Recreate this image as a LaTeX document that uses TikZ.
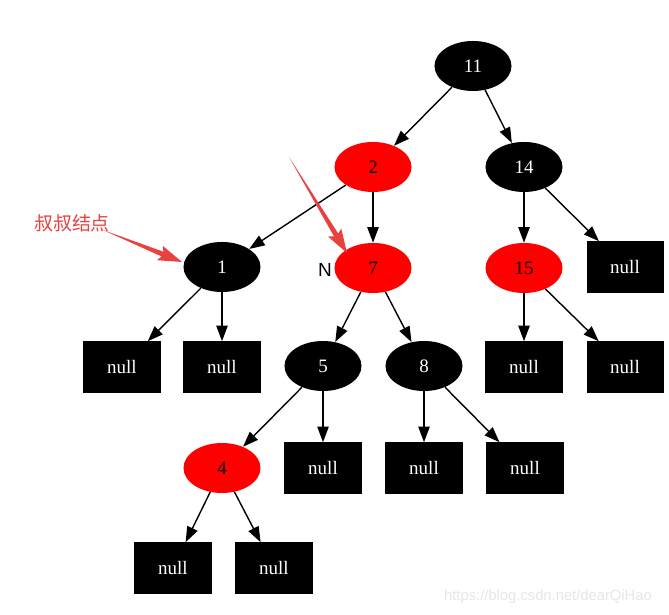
\documentclass[tikz,border=0pt]{standalone}
\usepackage{fontspec}
\setmainfont{Liberation Serif}
\newfontfamily\cjk{Noto Sans CJK SC}
\newfontfamily\labelsans{Liberation Sans}
\usepackage{tikz}
\usetikzlibrary{arrows.meta,shapes.geometric,calc}
\definecolor{notered}{HTML}{E8413E}
\definecolor{markgray}{HTML}{E6E6E6}
% tapered pointer: #1 = tail, #2 = tip
\newcommand{\taperarrow}[2]{%
  \fill[notered] (#1)
    -- ($($(#2)!15pt!(#1)$)!1.8pt!90:(#2)$)
    -- ($($(#2)!17pt!(#1)$)!5.5pt!90:(#2)$)
    -- (#2)
    -- ($($(#2)!17pt!(#1)$)!5.5pt!-90:(#2)$)
    -- ($($(#2)!15pt!(#1)$)!1.8pt!-90:(#2)$)
    -- cycle;}

\begin{document}
\begin{tikzpicture}[x=0.025cm, y=-0.025cm,
  font=\fontsize{13.5}{16}\selectfont,
  blacknode/.style={draw=none, fill=black, text=white, ellipse, minimum width=1.925cm, minimum height=1.25cm, inner sep=0pt},
  rednode/.style={draw=none, fill=red, text=black, ellipse, minimum width=1.925cm, minimum height=1.25cm, inner sep=0pt},
  nullbox/.style={draw=none, fill=black, text=white, rectangle, minimum width=1.925cm, minimum height=1.275cm, inner sep=0pt},
  edge/.style={line width=1pt, -{Triangle[length=11pt,width=8pt]}}]
\useasboundingbox (0,0) rectangle (669,615);

% Tree nodes
\node[blacknode] (n11) at (473,66) {11};
\node[rednode] (n2) at (373,167) {2};
\node[blacknode] (n14) at (524,167) {14};
\node[blacknode] (n1) at (222,267) {1};
\node[rednode] (n7) at (373,268) {7};
\node[rednode] (n15) at (524,268) {15};
\node[blacknode] (n5) at (323,366) {5};
\node[blacknode] (n8) at (424,366) {8};
\node[rednode] (n4) at (222,468) {4};

% Null leaves
\node[nullbox] (null14) at (625,267) {null};
\node[nullbox] (null1a) at (122,367) {null};
\node[nullbox] (null1b) at (222,367) {null};
\node[nullbox] (null15a) at (524,367) {null};
\node[nullbox] (null15b) at (625,367) {null};
\node[nullbox] (null5) at (323,468) {null};
\node[nullbox] (null8a) at (424,468) {null};
\node[nullbox] (null8b) at (525,468) {null};
\node[nullbox] (null4a) at (173,568) {null};
\node[nullbox] (null4b) at (274,568) {null};

% Edges
\draw[edge] (n11) -- (n2);
\draw[edge] (n11) -- (n14);
\draw[edge] (n2) -- (n1);
\draw[edge] (n2) -- (n7);
\draw[edge] (n14) -- (n15);
\draw[edge] (n14) -- (null14);
\draw[edge] (n1) -- (null1a);
\draw[edge] (n1) -- (null1b);
\draw[edge] (n7) -- (n5);
\draw[edge] (n7) -- (n8);
\draw[edge] (n15) -- (null15a);
\draw[edge] (n15) -- (null15b);
\draw[edge] (n5) -- (n4);
\draw[edge] (n5) -- (null5);
\draw[edge] (n8) -- (null8a);
\draw[edge] (n8) -- (null8b);
\draw[edge] (n4) -- (null4a);
\draw[edge] (n4) -- (null4b);

% Annotations
\node[text=notered, font=\cjk\fontsize{13.5}{15}\selectfont] (uncle) at (72,223) {叔叔结点};
\node[font=\labelsans\fontsize{13.5}{16}\selectfont] (nlabel) at (325,270) {N};
\coordinate (uncletail) at (103,230);
\coordinate (uncletip) at (182,262);
\coordinate (ntail) at (289,157);
\coordinate (ntip) at (347,253);
\taperarrow{uncletail}{uncletip}
\taperarrow{ntail}{ntip}

% Watermark
\node[text=markgray, font=\labelsans\fontsize{10.5}{12}\selectfont] (mark) at (548,597) {https://blog.csdn.net/dearQiHao};
\end{tikzpicture}
\end{document}
